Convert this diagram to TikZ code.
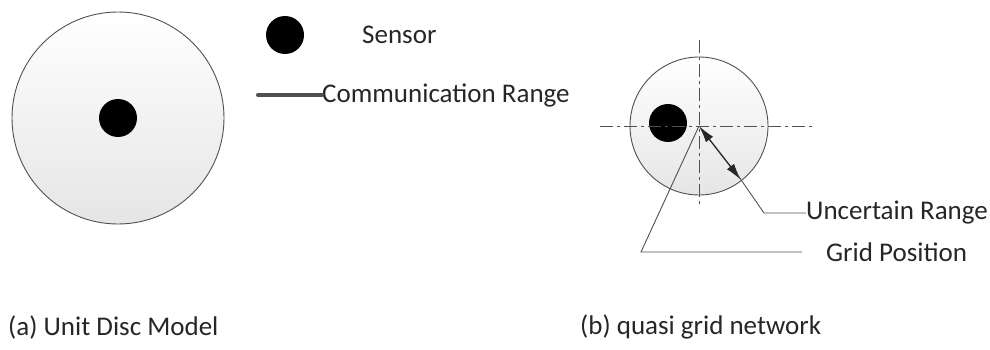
\documentclass[tikz,border=0pt]{standalone}
\usepackage{fontspec}
\setmainfont{Carlito}
\usetikzlibrary{arrows.meta}
\definecolor{edge}{HTML}{505050}
\definecolor{ink}{HTML}{262626}
\begin{document}
\begin{tikzpicture}[x=1pt,y=-1pt,
  disc/.style={circle,draw=edge,line width=0.9pt,top color=white,bottom color=black!10,inner sep=0pt},
  sensor/.style={circle,fill=black,inner sep=0pt,minimum size=38pt},
  lbl/.style={font=\fontsize{27}{30}\selectfont,text=ink,inner sep=0pt},
  leader/.style={draw=edge,line width=0.9pt},
  centerline/.style={draw=edge,line width=0.9pt,dash pattern=on 13pt off 4pt on 3pt off 4pt},
  rangearrow/.style={draw=ink,line width=1.3pt,>={Latex[length=17pt,width=9pt]},<->}]
\useasboundingbox (0,0) rectangle (990,350);

% (a) unit disc model
\node[disc,minimum size=212pt] (ud) at (118,118) {};
\node[sensor] (s1) at (118,118) {};

% legend
\node[sensor] (ls) at (285,35) {};
\node[lbl,anchor=west] (lst) at (362,35) {Sensor};
\coordinate (cr0) at (258,95);
\node[lbl,anchor=west] (crt) at (322,95) {Communication Range};
\draw[edge,line width=4pt,line cap=round] (cr0) -- (crt.west);

% (b) quasi grid network
\node[disc,minimum size=138pt] (qd) at (699,126) {};
\coordinate (gc) at (699,126);
\node[sensor] (s2) at (668,123) {};
\coordinate (hl) at (600,126);
\coordinate (hr) at (813,126);
\coordinate (vt) at (699,40);
\coordinate (vb) at (699,207);
\draw[centerline] (hl) -- (hr);
\draw[centerline] (vt) -- (vb);

% uncertain range arrow and its leader
\coordinate (ua) at (741,180);
\draw[rangearrow] (gc) -- (ua);
\node[lbl,anchor=west] (urt) at (806,213) {Uncertain Range};
\coordinate (ub) at (764,213);
\draw[leader] (737,174) -- (ub) -- (urt.west);

% grid position leader
\node[lbl,anchor=west] (gpt) at (826,252) {Grid Position};
\coordinate (gb) at (641,252);
\draw[leader] (gc) -- (gb) -- (802,252);

% captions
\node[lbl,anchor=west] (ca) at (8,327) {(a) Unit Disc Model};
\node[lbl,anchor=west] (cb) at (580,327) {(b) quasi grid network};
\end{tikzpicture}
\end{document}
